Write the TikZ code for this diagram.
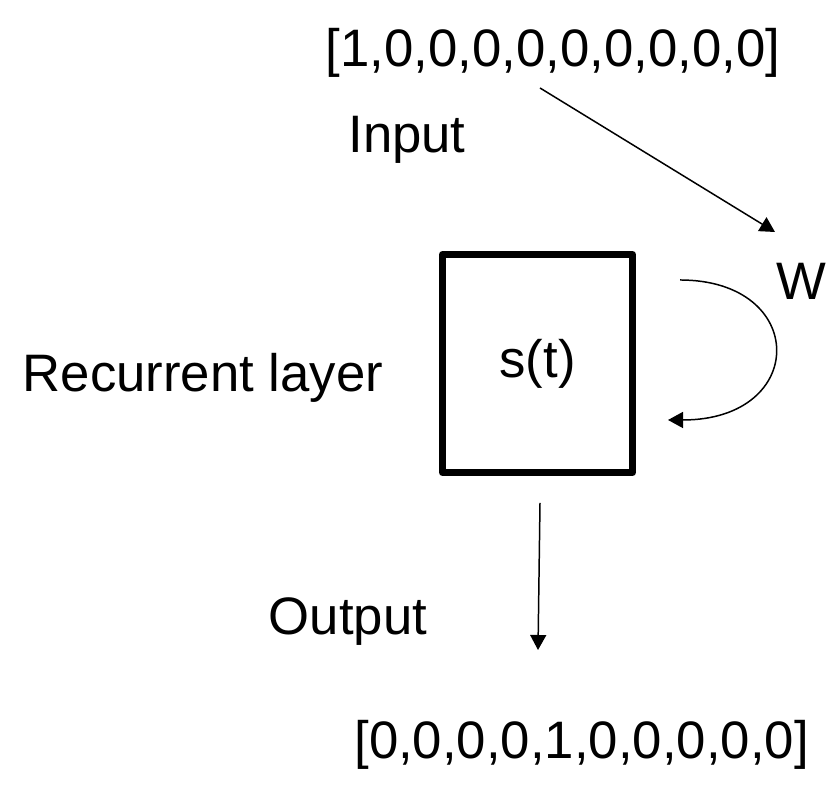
\documentclass[tikz,border=0pt]{standalone}
\usepackage{fontspec}
\setmainfont{Liberation Sans}
\usetikzlibrary{arrows.meta}

\begin{document}
\begin{tikzpicture}[
    every node/.style={font=\fontsize{30}{36}\selectfont},
    flow/.style={line width=0.85pt, -{Triangle[length=0.3cm, width=0.32cm]}}
]
    \useasboundingbox (0cm, 0cm) rectangle (16.6cm, 15.8cm);
    \node (onehotin) at (11.06cm, 14.74cm) {[1,0,0,0,0,0,0,0,0,0]};
    \node (inputlbl) at (8.14cm, 13.0cm) {Input};
    \node (weight) at (16.02cm, 10.18cm) {W};
    \node[draw, line width=4pt, line join=round, minimum width=3.8cm, minimum height=4.36cm] (state) at (10.75cm, 8.53cm) {\raisebox{-4.5pt}{s(t)}};
    \node (layerlbl) at (4.06cm, 8.24cm) {Recurrent layer};
    \node (outputlbl) at (6.96cm, 3.36cm) {Output};
    \node (onehotout) at (11.63cm, 0.9cm) {[0,0,0,0,1,0,0,0,0,0]};
    \coordinate (inA) at (10.8cm, 14.04cm);
    \coordinate (inB) at (15.5cm, 11.16cm);
    \coordinate (loopA) at (13.6cm, 10.2cm);
    \coordinate (loopB) at (13.36cm, 7.4cm);
    \coordinate (outA) at (10.8cm, 5.74cm);
    \coordinate (outB) at (10.76cm, 2.8cm);
    \draw[flow] (inA) -- (inB);
    \draw[flow] (loopA) .. controls (16.17cm, 10.2cm) and (16.17cm, 7.4cm) .. (loopB);
    \draw[flow] (outA) -- (outB);
\end{tikzpicture}
\end{document}
